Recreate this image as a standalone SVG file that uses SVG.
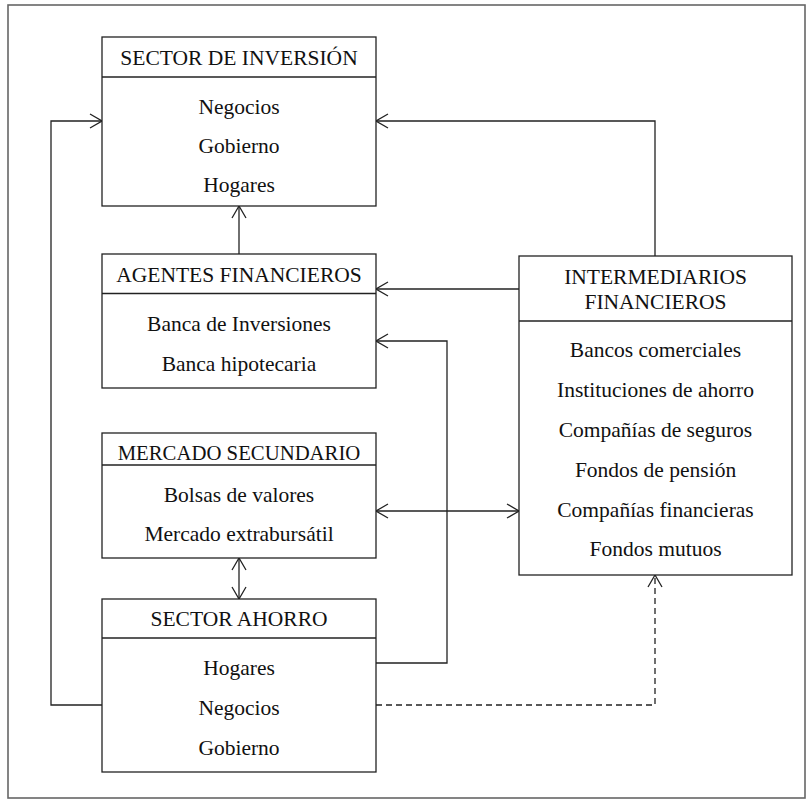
<svg xmlns="http://www.w3.org/2000/svg" width="812" height="800" viewBox="0 0 812 800">
  <style>
    .box { fill: #ffffff; stroke: #222222; stroke-width: 1.3; }
    .div { stroke: #222222; stroke-width: 1.3; }
    .t { font-family: "Liberation Serif", "Times New Roman", serif; font-size: 21.5px; fill: #111111; text-anchor: middle; }
    .edge { fill: none; stroke: #222222; stroke-width: 1.3; }
    .dash { stroke-dasharray: 6 4; }
  </style>
  <defs>
    <marker id="arrow" viewBox="0 0 14 16" refX="13" refY="8" markerWidth="14" markerHeight="16" markerUnits="userSpaceOnUse" orient="auto-start-reverse">
      <path d="M1,1 L13,8 L1,15" fill="none" stroke="#222222" stroke-width="1.3"/>
    </marker>
  </defs>

  <!-- outer frame -->
  <rect x="8" y="5" width="797" height="793" fill="#ffffff" stroke="#666666" stroke-width="1.6"/>

  <!-- connectors -->
  <g id="connectors">
    <!-- intermediarios -> sector de inversión -->
    <path class="edge" d="M655,256 V121 H376" marker-end="url(#arrow)"/>
    <!-- intermediarios -> agentes financieros -->
    <path class="edge" d="M519,289 H376" marker-end="url(#arrow)"/>
    <!-- sector ahorro -> agentes financieros -->
    <path class="edge" d="M376,663 H447 V341 H376" marker-end="url(#arrow)"/>
    <!-- mercado secundario <-> intermediarios -->
    <path class="edge" d="M376,511 H519" marker-start="url(#arrow)" marker-end="url(#arrow)"/>
    <!-- mercado secundario <-> sector ahorro -->
    <path class="edge" d="M239,558 V599" marker-start="url(#arrow)" marker-end="url(#arrow)"/>
    <!-- agentes financieros -> sector de inversión -->
    <path class="edge" d="M239,254 V206" marker-end="url(#arrow)"/>
    <!-- sector ahorro -> sector de inversión -->
    <path class="edge" d="M102,705 H51 V121 H102" marker-end="url(#arrow)"/>
    <!-- sector ahorro -> intermediarios (dashed) -->
    <path class="edge dash" d="M376,705 H655 V575" marker-end="url(#arrow)"/>
  </g>

  <!-- SECTOR DE INVERSIÓN -->
  <g id="sector-inversion">
    <rect class="box" x="102" y="37" width="274" height="169"/>
    <line class="div" x1="102" y1="77" x2="376" y2="77"/>
    <text class="t" x="239" y="65">SECTOR DE INVERSIÓN</text>
    <text class="t" x="239" y="114">Negocios</text>
    <text class="t" x="239" y="153">Gobierno</text>
    <text class="t" x="239" y="192">Hogares</text>
  </g>

  <!-- AGENTES FINANCIEROS -->
  <g id="agentes-financieros">
    <rect class="box" x="102" y="254" width="274" height="134"/>
    <line class="div" x1="102" y1="293.5" x2="376" y2="293.5"/>
    <text class="t" x="239" y="282">AGENTES FINANCIEROS</text>
    <text class="t" x="239" y="331">Banca de Inversiones</text>
    <text class="t" x="239" y="371">Banca hipotecaria</text>
  </g>

  <!-- MERCADO SECUNDARIO -->
  <g id="mercado-secundario">
    <rect class="box" x="102" y="433" width="274" height="125"/>
    <line class="div" x1="102" y1="465" x2="376" y2="465"/>
    <text class="t" x="239" y="460" style="font-size:20.75px">MERCADO SECUNDARIO</text>
    <text class="t" x="239" y="502">Bolsas de valores</text>
    <text class="t" x="239" y="541">Mercado extrabursátil</text>
  </g>

  <!-- SECTOR AHORRO -->
  <g id="sector-ahorro">
    <rect class="box" x="102" y="599" width="274" height="173"/>
    <line class="div" x1="102" y1="638" x2="376" y2="638"/>
    <text class="t" x="239" y="626">SECTOR AHORRO</text>
    <text class="t" x="239" y="675">Hogares</text>
    <text class="t" x="239" y="715">Negocios</text>
    <text class="t" x="239" y="755">Gobierno</text>
  </g>

  <!-- INTERMEDIARIOS FINANCIEROS -->
  <g id="intermediarios-financieros">
    <rect class="box" x="519" y="256" width="273" height="319"/>
    <line class="div" x1="519" y1="321" x2="792" y2="321"/>
    <text class="t" x="655.5" y="284">INTERMEDIARIOS</text>
    <text class="t" x="655.5" y="309">FINANCIEROS</text>
    <text class="t" x="655.5" y="357">Bancos comerciales</text>
    <text class="t" x="655.5" y="397">Instituciones de ahorro</text>
    <text class="t" x="655.5" y="437">Compañías de seguros</text>
    <text class="t" x="655.5" y="477">Fondos de pensión</text>
    <text class="t" x="655.5" y="517">Compañías financieras</text>
    <text class="t" x="655.5" y="556">Fondos mutuos</text>
  </g>
</svg>
